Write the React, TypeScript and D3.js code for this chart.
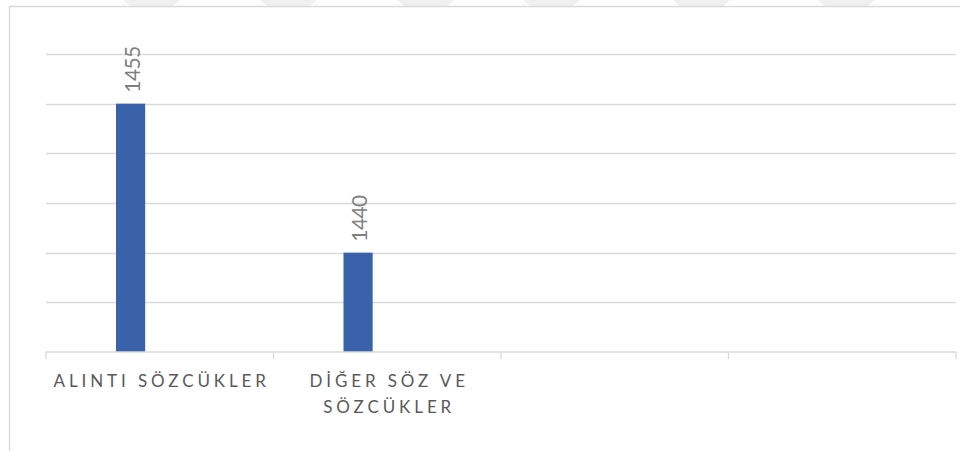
import React from "react";
import * as d3 from "d3";

const categories: string[] = ["ALINTI SÖZCÜKLER", "DİĞER SÖZ VE SÖZCÜKLER", "", ""];
const seriesNames: string[] = ["Seri 1", "Seri 2", "Seri 3"];
const series1: (number | null)[] = [1455, 1440, null, null];
const series2: (number | null)[] = [null, null, null, null];
const series3: (number | null)[] = [null, null, null, null];
const yTicks: number[] = [1430, 1435, 1440, 1445, 1450, 1455, 1460];
const watermarkStarts: number[] = [123, 260, 397, 523, 673, 818];

const W = 960;
const H = 451;
const plot = { left: 46, right: 956, top: 54, bottom: 352 };
const catFontSize = 17;
const catFont = `${catFontSize}px Lato`;
const catSpacing = 3.9;

function measure(text: string): number {
  if (typeof document === "undefined") return text.length * 9;
  const c = document.createElement("canvas").getContext("2d")!;
  c.font = catFont;
  return c.measureText(text).width + catSpacing * text.length;
}

function wrap(text: string, maxW: number): string[] {
  const words = text.split(" ");
  const lines: string[] = [];
  let cur = "";
  for (const w of words) {
    const t = cur ? cur + " " + w : w;
    if (measure(t) > maxW && cur) {
      lines.push(cur);
      cur = w;
    } else cur = t;
  }
  if (cur) lines.push(cur);
  return lines;
}

export default function App() {
  const allSeries = [series1, series2, series3];
  const x = d3.scaleBand<number>().domain(categories.map((_, i) => i)).range([plot.left, plot.right]).padding(0);
  const xs = d3.scaleBand<number>().domain(seriesNames.map((_, i) => i)).range([0, x.bandwidth()]).paddingInner(0).paddingOuter(2.4);
  const y = d3.scaleLinear().domain([1430, 1460]).range([plot.bottom, plot.top]);
  const grid = "#d9d9d9";
  const boundaries = categories.map((_, i) => x(i)!).concat([plot.right]);

  return (
    <svg width={W} height={H} style={{ position: "absolute", left: 0, top: 0, background: "#fff" }}>
      {watermarkStarts.map((s, i) => (
        <polygon key={i} points={`${s},0 ${s + 57},0 ${s + 50},6 ${s + 7},6`} fill="#f0f0f0" />
      ))}
      <path d={`M9.5,${H} V6.5 H${W}`} fill="none" stroke={grid} strokeWidth={1.3} />
      {yTicks.slice(1).map((t) => (
        <line key={t} x1={plot.left} x2={plot.right} y1={Math.round(y(t)) + 0.5} y2={Math.round(y(t)) + 0.5} stroke={grid} strokeWidth={1.3} />
      ))}
      {allSeries.map((vals, si) =>
        vals.map((v, ci) =>
          v == null ? null : (
            <rect
              key={`${si}-${ci}`}
              x={x(ci)! + xs(si)!}
              y={y(v)}
              width={xs.bandwidth()}
              height={y(1430) - y(v)}
              fill="#3A62AB"
            />
          )
        )
      )}
      <line x1={plot.left} x2={plot.right} y1={plot.bottom} y2={plot.bottom} stroke={grid} strokeWidth={1.3} />
      {boundaries.map((b, i) => (
        <line key={i} x1={b} x2={b} y1={plot.bottom} y2={plot.bottom + 7} stroke={grid} strokeWidth={1.3} />
      ))}
      {allSeries.map((vals, si) =>
        vals.map((v, ci) =>
          v == null ? null : (
            <text
              key={`l${si}-${ci}`}
              transform={`translate(${x(ci)! + xs(si)! + xs.bandwidth() / 2 + 1.5},${y(v) - 11}) rotate(-90)`}
              dy="0.36em"
              fontFamily="Lato"
              fontSize={21}
              letterSpacing={-0.6}
              fill="#7f7f7f"
            >
              {v}
            </text>
          )
        )
      )}
      {categories.map((c, i) => {
        const lines = wrap(c, x.bandwidth() - 6);
        return (
          <text key={c + i} fontFamily="Lato" fontSize={catFontSize} fill="#595959" letterSpacing={catSpacing} textAnchor="middle">
            {lines.map((l, li) => (
              <tspan key={li} x={x(i)! + x.bandwidth() / 2 + catSpacing / 2} y={387 + li * 26}>
                {l}
              </tspan>
            ))}
          </text>
        );
      })}
    </svg>
  );
}
